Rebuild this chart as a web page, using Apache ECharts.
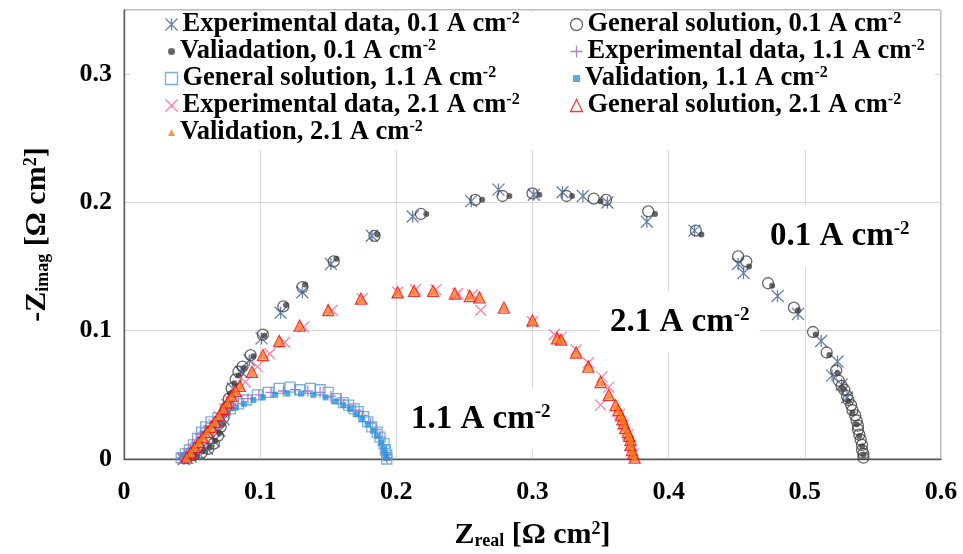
<!DOCTYPE html>
<html>
<head>
<meta charset="utf-8">
<script src="https://cdn.jsdelivr.net/npm/echarts@6/dist/echarts.min.js"></script>
<style>
html,body{margin:0;padding:0;background:#fff}
#main{width:963px;height:554px}
</style>
</head>
<body>
<div id="main"></div>
<script>
// 0.1 A cm-2
let exp01 = [[0.044,0.000],[0.049,0.002],[0.055,0.004],[0.061,0.008],[0.066,0.014],[0.070,0.022],[0.073,0.031],[0.076,0.042],[0.080,0.055],[0.086,0.068],[0.092,0.077],[0.101,0.094],[0.115,0.114],[0.131,0.130],[0.152,0.152],[0.182,0.174],[0.212,0.189],[0.255,0.201],[0.275,0.210],[0.301,0.206],[0.322,0.208],[0.337,0.205],[0.355,0.200],[0.384,0.185],[0.419,0.178],[0.451,0.152],[0.455,0.145],[0.480,0.127],[0.495,0.113],[0.512,0.092],[0.524,0.076],[0.520,0.065],[0.527,0.058],[0.531,0.048]];
let gen01 = [[0.045,0.001],[0.051,0.003],[0.057,0.005],[0.062,0.008],[0.066,0.012],[0.069,0.018],[0.071,0.025],[0.073,0.032],[0.075,0.040],[0.077,0.047],[0.079,0.055],[0.082,0.062],[0.084,0.068],[0.087,0.072],[0.093,0.081],[0.102,0.097],[0.117,0.119],[0.131,0.134],[0.154,0.154],[0.184,0.174],[0.218,0.191],[0.258,0.202],[0.278,0.205],[0.300,0.207],[0.325,0.205],[0.345,0.203],[0.354,0.202],[0.385,0.193],[0.420,0.178],[0.451,0.158],[0.457,0.154],[0.473,0.137],[0.492,0.118],[0.506,0.099],[0.516,0.083],[0.523,0.069],[0.525,0.061],[0.527,0.057],[0.529,0.054],[0.531,0.049],[0.532,0.046],[0.534,0.042],[0.535,0.038],[0.537,0.034],[0.538,0.030],[0.539,0.026],[0.539,0.023],[0.540,0.019],[0.541,0.015],[0.542,0.011],[0.542,0.007],[0.543,0.004],[0.543,0.001]];
let val01 = [[0.046,0.001],[0.052,0.003],[0.058,0.006],[0.063,0.009],[0.067,0.014],[0.070,0.020],[0.072,0.027],[0.074,0.035],[0.076,0.043],[0.078,0.051],[0.081,0.059],[0.084,0.065],[0.088,0.071],[0.095,0.080],[0.103,0.096],[0.119,0.120],[0.133,0.136],[0.156,0.156],[0.186,0.175],[0.222,0.191],[0.263,0.202],[0.283,0.205],[0.305,0.206],[0.329,0.205],[0.350,0.201],[0.390,0.191],[0.424,0.175],[0.459,0.150],[0.476,0.135],[0.495,0.116],[0.508,0.097],[0.518,0.081],[0.524,0.067],[0.528,0.055],[0.532,0.045],[0.535,0.036],[0.538,0.027],[0.540,0.018],[0.542,0.010],[0.543,0.003]];

// 1.1 A cm-2
let exp11 = [[0.043,0.001],[0.046,0.004],[0.049,0.008],[0.053,0.013],[0.056,0.019],[0.060,0.024],[0.065,0.028],[0.071,0.033],[0.077,0.038],[0.084,0.043],[0.091,0.047],[0.099,0.050],[0.108,0.052],[0.117,0.053],[0.126,0.054],[0.135,0.053],[0.144,0.052],[0.152,0.049],[0.159,0.046],[0.165,0.042],[0.170,0.038],[0.175,0.034],[0.181,0.028],[0.185,0.023],[0.188,0.017],[0.190,0.011],[0.192,0.005],[0.193,0.001]];
let gen11 = [[0.042,0.001],[0.045,0.004],[0.048,0.007],[0.051,0.011],[0.054,0.016],[0.057,0.021],[0.060,0.025],[0.064,0.029],[0.069,0.032],[0.074,0.036],[0.078,0.039],[0.084,0.043],[0.090,0.046],[0.098,0.050],[0.106,0.052],[0.114,0.055],[0.122,0.056],[0.129,0.054],[0.137,0.055],[0.144,0.054],[0.150,0.052],[0.156,0.047],[0.161,0.044],[0.165,0.042],[0.169,0.039],[0.172,0.037],[0.176,0.033],[0.179,0.029],[0.182,0.025],[0.186,0.021],[0.188,0.017],[0.191,0.012],[0.192,0.007],[0.193,0.003],[0.193,0.000]];
let val11 = [[0.043,0.001],[0.046,0.004],[0.049,0.007],[0.052,0.011],[0.055,0.015],[0.058,0.020],[0.061,0.024],[0.066,0.028],[0.071,0.032],[0.076,0.036],[0.082,0.040],[0.088,0.043],[0.095,0.046],[0.102,0.048],[0.111,0.050],[0.120,0.051],[0.130,0.051],[0.139,0.050],[0.148,0.048],[0.155,0.045],[0.161,0.042],[0.166,0.039],[0.171,0.035],[0.175,0.031],[0.179,0.027],[0.183,0.022],[0.186,0.018],[0.189,0.013],[0.191,0.008],[0.192,0.004],[0.193,0.001]];

// 2.1 A cm-2
let exp21 = [[0.043,0.000],[0.047,0.004],[0.051,0.008],[0.054,0.012],[0.058,0.017],[0.062,0.022],[0.066,0.027],[0.070,0.033],[0.074,0.039],[0.078,0.045],[0.083,0.052],[0.089,0.060],[0.098,0.072],[0.107,0.082],[0.118,0.091],[0.132,0.103],[0.153,0.116],[0.175,0.125],[0.201,0.130],[0.214,0.132],[0.229,0.132],[0.245,0.129],[0.256,0.128],[0.262,0.116],[0.300,0.107],[0.316,0.097],[0.321,0.095],[0.332,0.085],[0.341,0.075],[0.351,0.064],[0.356,0.056],[0.350,0.042],[0.364,0.035],[0.367,0.027],[0.370,0.019],[0.372,0.011],[0.374,0.004]];
let gen21 = [[0.046,0.001],[0.049,0.005],[0.052,0.009],[0.055,0.013],[0.058,0.017],[0.061,0.021],[0.064,0.025],[0.067,0.029],[0.070,0.034],[0.073,0.039],[0.076,0.044],[0.079,0.049],[0.082,0.053],[0.085,0.057],[0.094,0.068],[0.102,0.081],[0.114,0.092],[0.129,0.104],[0.150,0.116],[0.174,0.125],[0.201,0.130],[0.213,0.131],[0.227,0.131],[0.243,0.129],[0.254,0.127],[0.261,0.126],[0.279,0.118],[0.300,0.108],[0.318,0.094],[0.321,0.093],[0.332,0.083],[0.341,0.072],[0.350,0.060],[0.356,0.050],[0.361,0.042],[0.363,0.038],[0.365,0.034],[0.366,0.031],[0.367,0.028],[0.368,0.024],[0.370,0.021],[0.371,0.018],[0.372,0.015],[0.372,0.011],[0.373,0.007],[0.374,0.004],[0.375,0.001]];
let val21 = [[0.046,0.001],[0.049,0.005],[0.052,0.009],[0.055,0.013],[0.058,0.017],[0.061,0.021],[0.064,0.025],[0.067,0.029],[0.070,0.034],[0.073,0.039],[0.076,0.044],[0.079,0.049],[0.082,0.053],[0.085,0.057],[0.094,0.068],[0.102,0.081],[0.114,0.092],[0.129,0.104],[0.150,0.116],[0.174,0.125],[0.201,0.130],[0.213,0.131],[0.227,0.131],[0.243,0.129],[0.254,0.127],[0.261,0.126],[0.279,0.118],[0.300,0.108],[0.318,0.094],[0.321,0.093],[0.332,0.083],[0.341,0.072],[0.350,0.060],[0.356,0.050],[0.361,0.042],[0.363,0.038],[0.365,0.034],[0.366,0.031],[0.367,0.028],[0.368,0.024],[0.370,0.021],[0.371,0.018],[0.372,0.015],[0.372,0.011],[0.373,0.007],[0.374,0.004],[0.375,0.001]];

let seriesNames = [
    'Experimental data, 0.1 A cm-2', 'General solution, 0.1 A cm-2', 'Valiadation, 0.1 A cm-2',
    'Experimental data, 1.1 A cm-2', 'General solution, 1.1 A cm-2', 'Validation, 1.1 A cm-2',
    'Experimental data, 2.1 A cm-2', 'General solution, 2.1 A cm-2', 'Validation, 2.1 A cm-2'
];
let labels = ['0.1 A cm-2', '2.1 A cm-2', '1.1 A cm-2'];

let serif = '"Liberation Serif", "Times New Roman", serif';
let asterisk = 'path://M0 0L10 10M10 0L0 10M5 0L5 10';
let plus = 'path://M5 0L5 10M0 5L10 5';
let cross = 'path://M0 0L10 10M10 0L0 10';

// 上标处理
function sup(text){
    return text.replace(/(.*)-2$/, '{t|$1}{s|-2}');
}
let richT = {fontSize:26.5, fontWeight:'bold', fontFamily:serif, color:'#000', lineHeight:27};
let richS = {fontSize:16, fontWeight:'bold', fontFamily:serif, color:'#000', verticalAlign:'top', lineHeight:15};

function outline(symbol, size, color){
    return {symbol:symbol, symbolSize:size, itemStyle:{color:'none', borderColor:color, borderWidth:1.3}};
}
function filled(symbol, size, color){
    return {symbol:symbol, symbolSize:size, itemStyle:{color:color}};
}
let styles = [
    outline(asterisk, 12, '#3f609a'),
    outline('circle', 11, '#404040'),
    filled('circle', 6, '#404040'),
    outline(plus, 11, '#9b5fc0'),
    outline('rect', 10, '#5b9bd5'),
    filled('rect', 6, '#2a96dc'),
    outline(cross, 11, '#ff5c9d'),
    outline('triangle', 11, '#ff0000'),
    filled('triangle', 9, '#f57c1f')
];
let allData = [exp01, gen01, val01, exp11, gen11, val11, exp21, gen21, val21];

let series = allData.map(function(d, i){
    return Object.assign({
        name: seriesNames[i],
        type: 'scatter',
        data: d,
        animation: false
    }, styles[i]);
});

// 图例两列
let legends = seriesNames.map(function(name, i){
    let col = i % 2;
    let row = Math.floor(i / 2);
    let small = (i == 2 || i == 5 || i == 8);
    let w = small ? 7 : 12;
    return {
        data: [name],
        orient: 'vertical',
        left: (col == 0 ? 180 : 585) - 5 - w,
        top: 11 + row * 27,
        padding: 0,
        itemWidth: w,
        itemHeight: w,
        selectedMode: false,
        itemStyle: {borderWidth: 1.3},
        formatter: sup,
        textStyle: {rich: {t: richT, s: richS}}
    };
});

function note(text, x, y){
    return {
        type: 'text',
        x: x,
        y: y,
        z: 1,
        silent: true,
        style: {
            text: sup(text),
            align: 'left',
            verticalAlign: 'middle',
            backgroundColor: '#fff',
            padding: [14, 10],
            rich: {
                t: {fontSize:33, fontWeight:'bold', fontFamily:serif, color:'#000', lineHeight:33},
                s: {fontSize:19, fontWeight:'bold', fontFamily:serif, color:'#000', verticalAlign:'top', lineHeight:18}
            }
        }
    };
}

let nameRich = {
    sub: {fontSize:18, fontWeight:'bold', fontFamily:serif, color:'#000', verticalAlign:'bottom', lineHeight:17},
    sup: {fontSize:18, fontWeight:'bold', fontFamily:serif, color:'#000', verticalAlign:'top', lineHeight:17}
};

let chart = echarts.init(document.getElementById('main'));
let option = {
    backgroundColor: '#fff',
    animation: false,
    grid: {
        left: 124, right: 22, top: 10, bottom: 95,
        show: true, borderColor: '#808080', borderWidth: 1,
        outerBoundsMode: 'none'
    },
    legend: legends,
    graphic: [
        {type:'rect', z:1, silent:true, shape:{x:130, y:12, width:805, height:138}, style:{fill:'#fff'}},
        note(labels[0], 760, 236),
        note(labels[1], 600, 322),
        note(labels[2], 401, 419)
    ],
    xAxis: {
        type: 'value',
        min: 0, max: 0.6, interval: 0.1,
        name: 'Z{sub|real} [Ω cm{sup|2}]',
        nameLocation: 'middle',
        nameGap: 61,
        nameTextStyle: {fontSize: 30, fontWeight: 'bold', fontFamily: serif, color: '#000', rich: nameRich},
        axisLine: {lineStyle: {color: '#595959', width: 1.3}},
        axisTick: {show: false},
        axisLabel: {
            margin: 20,
            fontSize: 26, fontWeight: 'bold', fontFamily: serif, color: '#000',
            formatter: function(v){ return v == 0 ? '0' : v.toFixed(1); }
        },
        splitLine: {lineStyle: {color: '#d9d9d9'}}
    },
    yAxis: {
        type: 'value',
        min: 0, max: 0.35, interval: 0.1,
        name: '-Z{sub|imag} [Ω cm{sup|2}]',
        nameLocation: 'middle',
        nameRotate: 90,
        nameGap: 72,
        nameTextStyle: {fontSize: 30, fontWeight: 'bold', fontFamily: serif, color: '#000', rich: nameRich},
        axisLine: {show: true, lineStyle: {color: '#595959', width: 1.3}},
        axisTick: {show: false},
        axisLabel: {
            margin: 12,
            showMaxLabel: false,
            fontSize: 26, fontWeight: 'bold', fontFamily: serif, color: '#000',
            formatter: function(v){ return v == 0 ? '0' : v.toFixed(1); }
        },
        splitLine: {lineStyle: {color: '#d9d9d9'}}
    },
    series: series
};
chart.setOption(option);
</script>
</body>
</html>
